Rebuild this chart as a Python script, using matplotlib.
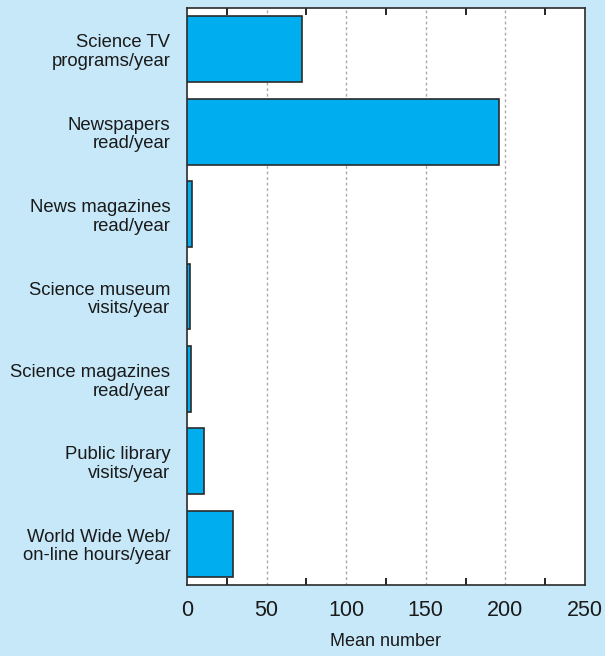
import matplotlib.pyplot as plt
from matplotlib.ticker import MultipleLocator

categories = [
    "Science TV\nprograms/year",
    "Newspapers\nread/year",
    "News magazines\nread/year",
    "Science museum\nvisits/year",
    "Science magazines\nread/year",
    "Public library\nvisits/year",
    "World Wide Web/\non-line hours/year",
]
values = [72, 196, 3, 2, 2.5, 11, 29]

bg = "#c6e8f8"
plt.rcParams["font.family"] = ["Liberation Sans", "DejaVu Sans"]

fig = plt.figure(figsize=(6.05, 6.56), dpi=100, facecolor=bg)
ax = fig.add_axes([0.309, 0.108, 0.658, 0.880])

ypos = list(range(len(categories)))
ax.barh(ypos, values, height=0.8, color="#00aeef", edgecolor="#2b2b2b", linewidth=1.2, zorder=3)
ax.set_ylim(len(categories) - 0.5, -0.5)
ax.set_xlim(0, 250)
ax.set_yticks(ypos)
ax.set_yticklabels(categories, fontsize=13.3, color="#1a1a1a", linespacing=1.12)
ax.set_xticks([0, 50, 100, 150, 200, 250])
ax.xaxis.set_minor_locator(MultipleLocator(25))
ax.tick_params(axis="x", which="major", length=0, labelsize=15.5, pad=11, labelcolor="#1a1a1a")
ax.tick_params(axis="x", which="minor", length=5, direction="in", top=True, width=1.2)
ax.tick_params(axis="y", length=0, pad=12)
for v in [50, 100, 150, 200]:
    ax.axvline(v, color="#aaaaaa", linestyle=(0, (2, 2)), linewidth=1, zorder=1)
for s in ax.spines.values():
    s.set_linewidth(1.2)
    s.set_color("#2b2b2b")
ax.set_xlabel("Mean number", fontsize=13, labelpad=8, color="#1a1a1a")

fig.savefig("out.png", dpi=100, facecolor=bg)
